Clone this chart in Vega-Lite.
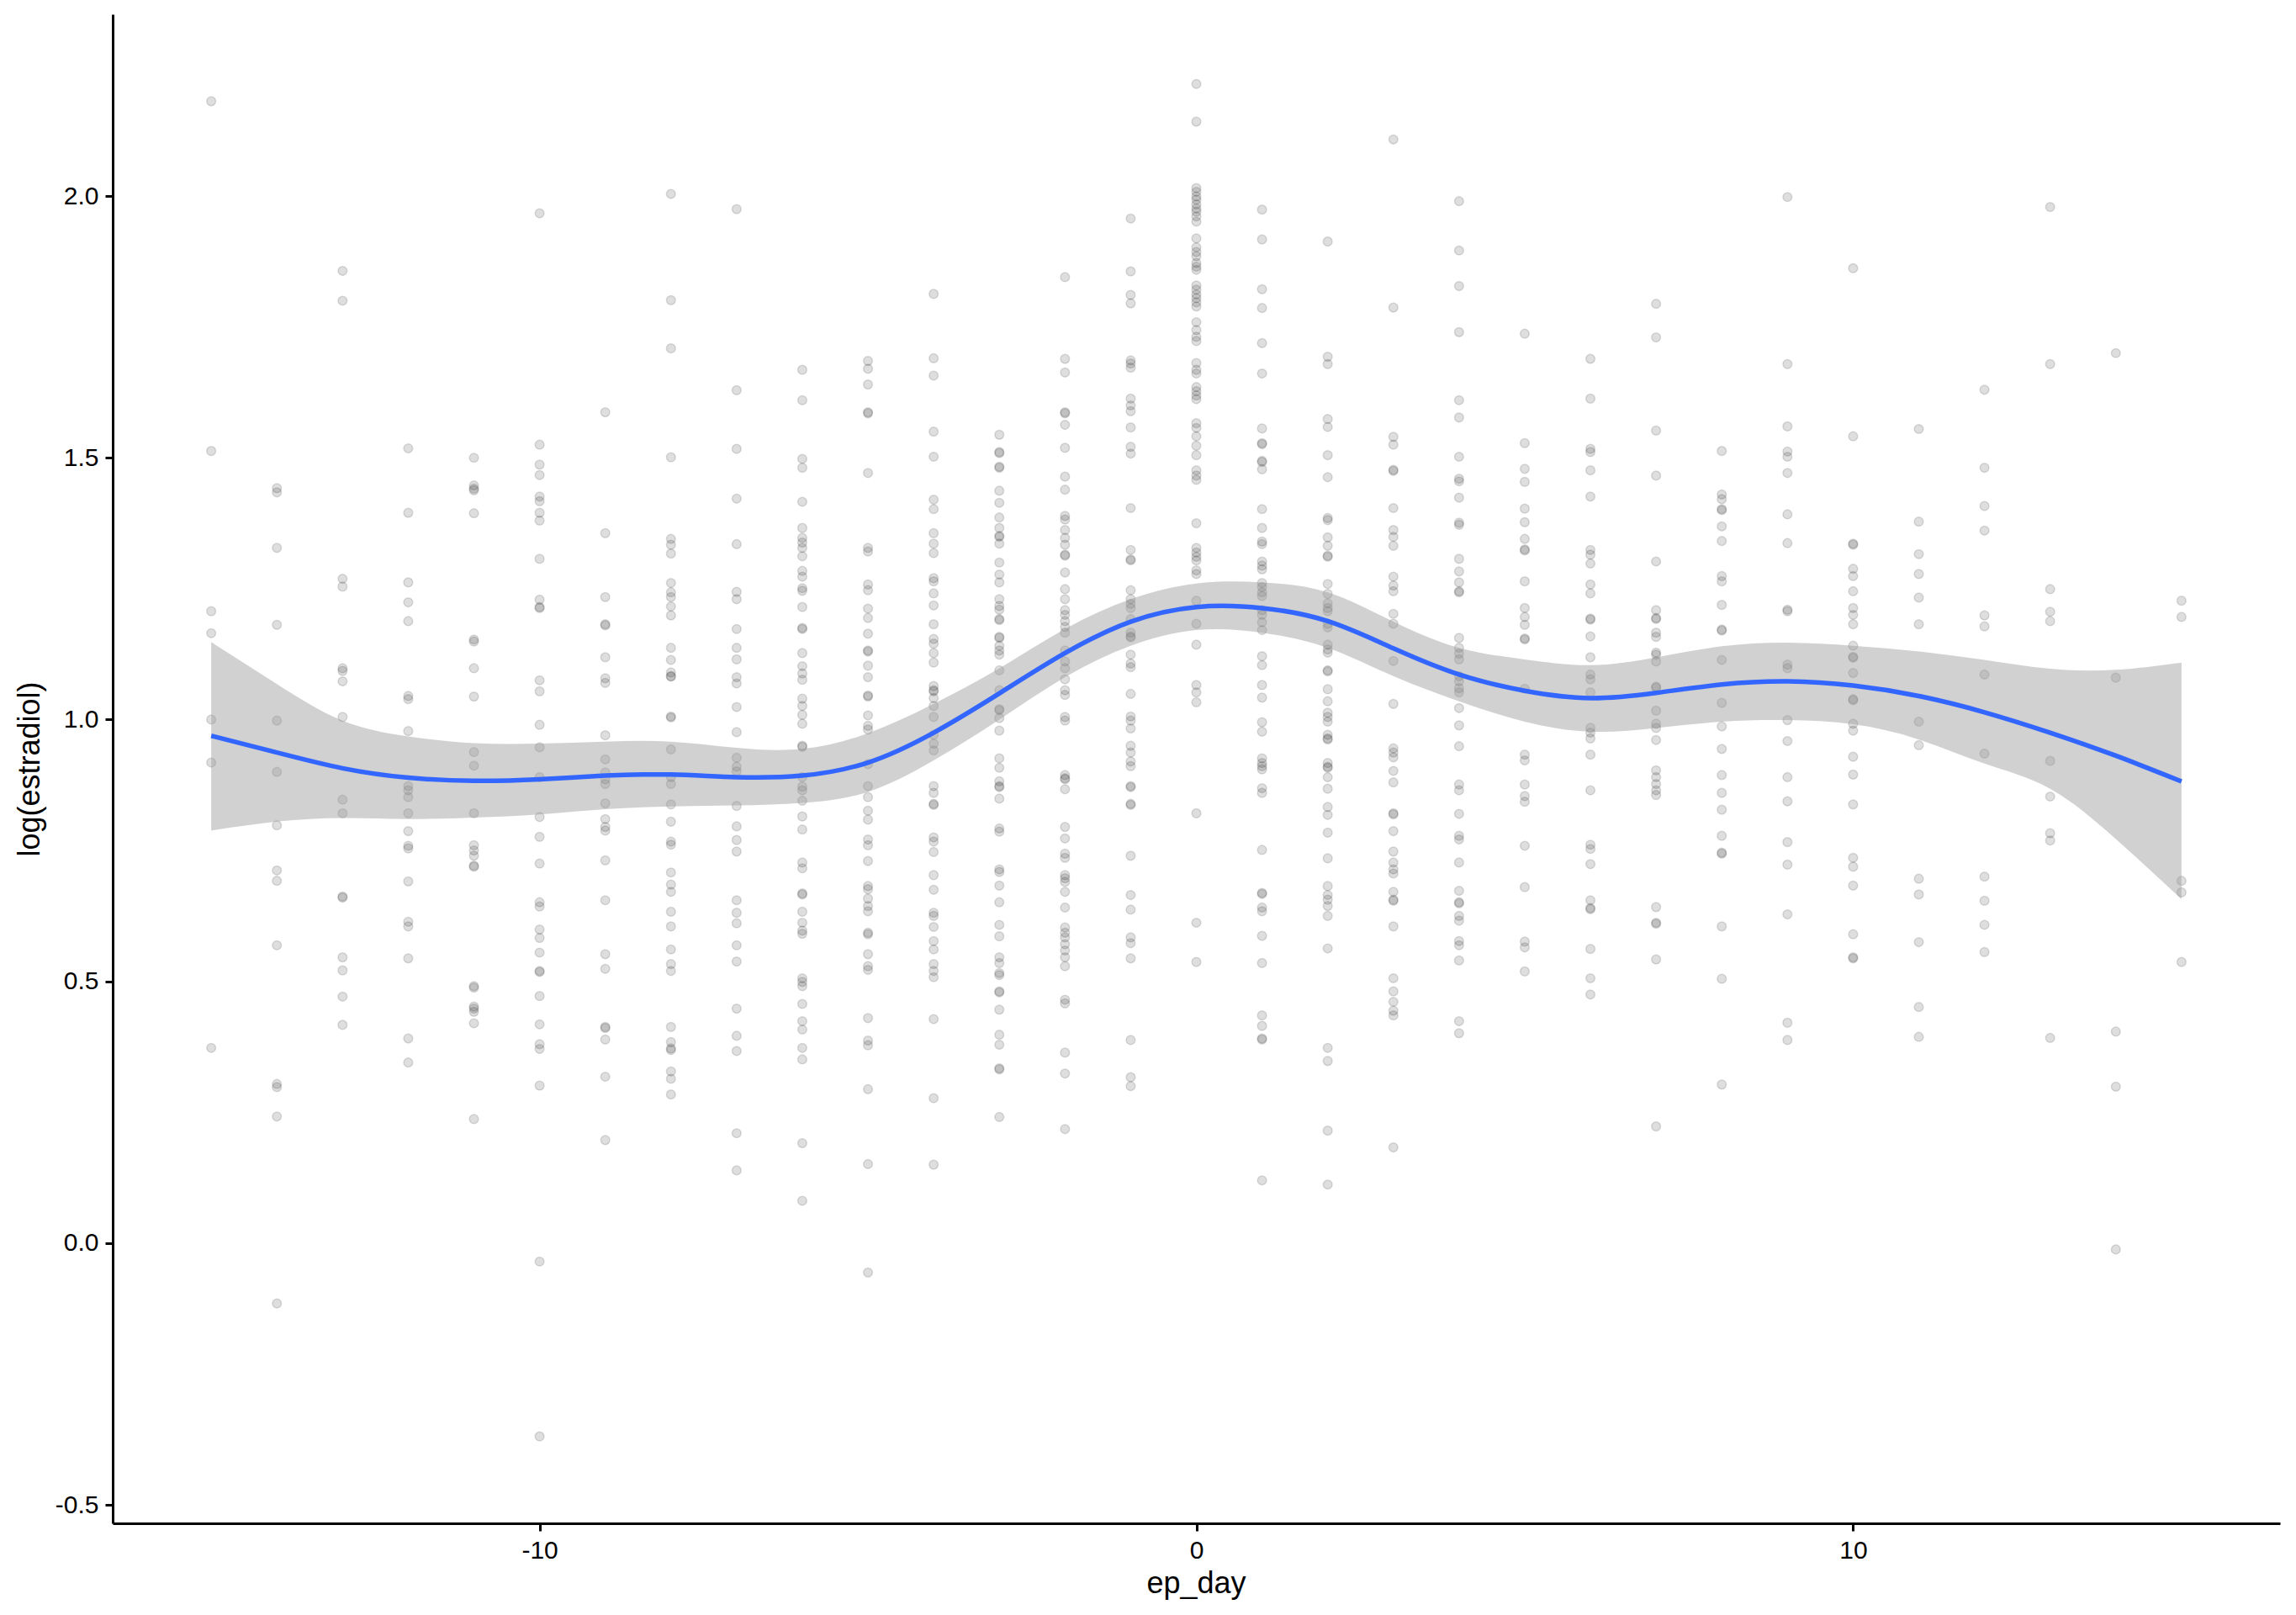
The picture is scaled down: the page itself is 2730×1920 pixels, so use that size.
{
"$schema": "https://vega.github.io/schema/vega-lite/v6.json",
"width": 2577, "height": 1794,
"autosize": {"type": "none"},
"padding": {"left": 134, "top": 17, "right": 19, "bottom": 109},
"background": "white",
"config": {"view": {"stroke": null},
 "axis": {"grid": false, "domainColor": "black", "domainWidth": 3, "tickColor": "black", "tickWidth": 3, "tickSize": 9, "labelPadding": 8, "labelColor": "black", "labelFont": "Liberation Sans", "labelFontSize": 30, "titleFont": "Liberation Sans", "titleFontSize": 36, "titleFontWeight": "normal", "titleColor": "black"}},
"datasets": {
"pts": [
{"d":-15,"v":2.181},{"d":-15,"v":1.513},{"d":-15,"v":1.207},{"d":-15,"v":1.165},{"d":-15,"v":1.0},{"d":-15,"v":0.918},{"d":-15,"v":0.373},
{"d":-14,"v":1.442},{"d":-14,"v":1.434},{"d":-14,"v":1.328},{"d":-14,"v":1.181},{"d":-14,"v":0.998},{"d":-14,"v":0.9},{"d":-14,"v":0.798},{"d":-14,"v":0.712},{"d":-14,"v":0.692},{"d":-14,"v":0.569},{"d":-14,"v":0.304},{"d":-14,"v":0.298},{"d":-14,"v":0.242},{"d":-14,"v":-0.115},
{"d":-13,"v":1.857},{"d":-13,"v":1.8},{"d":-13,"v":1.269},{"d":-13,"v":1.254},{"d":-13,"v":1.098},{"d":-13,"v":1.093},{"d":-13,"v":1.073},{"d":-13,"v":1.005},{"d":-13,"v":0.847},{"d":-13,"v":0.821},{"d":-13,"v":0.662},{"d":-13,"v":0.66},{"d":-13,"v":0.546},{"d":-13,"v":0.521},{"d":-13,"v":0.471},{"d":-13,"v":0.417},
{"d":-12,"v":1.518},{"d":-12,"v":1.395},{"d":-12,"v":1.262},{"d":-12,"v":1.224},{"d":-12,"v":1.188},{"d":-12,"v":1.045},{"d":-12,"v":1.039},{"d":-12,"v":0.978},{"d":-12,"v":0.873},{"d":-12,"v":0.865},{"d":-12,"v":0.852},{"d":-12,"v":0.821},{"d":-12,"v":0.787},{"d":-12,"v":0.759},{"d":-12,"v":0.754},{"d":-12,"v":0.691},{"d":-12,"v":0.614},{"d":-12,"v":0.605},{"d":-12,"v":0.544},{"d":-12,"v":0.391},{"d":-12,"v":0.345},
{"d":-11,"v":1.5},{"d":-11,"v":1.447},{"d":-11,"v":1.441},{"d":-11,"v":1.438},{"d":-11,"v":1.394},{"d":-11,"v":1.153},{"d":-11,"v":1.149},{"d":-11,"v":1.098},{"d":-11,"v":1.044},{"d":-11,"v":0.938},{"d":-11,"v":0.912},{"d":-11,"v":0.821},{"d":-11,"v":0.76},{"d":-11,"v":0.75},{"d":-11,"v":0.74},{"d":-11,"v":0.721},{"d":-11,"v":0.719},{"d":-11,"v":0.491},{"d":-11,"v":0.488},{"d":-11,"v":0.452},{"d":-11,"v":0.448},{"d":-11,"v":0.442},{"d":-11,"v":0.42},{"d":-11,"v":0.237},
{"d":-10,"v":1.967},{"d":-10,"v":1.525},{"d":-10,"v":1.487},{"d":-10,"v":1.467},{"d":-10,"v":1.426},{"d":-10,"v":1.417},{"d":-10,"v":1.395},{"d":-10,"v":1.38},{"d":-10,"v":1.307},{"d":-10,"v":1.229},{"d":-10,"v":1.215},{"d":-10,"v":1.213},{"d":-10,"v":1.075},{"d":-10,"v":1.054},{"d":-10,"v":0.99},{"d":-10,"v":0.947},{"d":-10,"v":0.89},{"d":-10,"v":0.814},{"d":-10,"v":0.776},{"d":-10,"v":0.725},{"d":-10,"v":0.651},{"d":-10,"v":0.643},{"d":-10,"v":0.599},{"d":-10,"v":0.583},{"d":-10,"v":0.555},{"d":-10,"v":0.52},{"d":-10,"v":0.518},{"d":-10,"v":0.472},{"d":-10,"v":0.418},{"d":-10,"v":0.38},{"d":-10,"v":0.371},{"d":-10,"v":0.301},{"d":-10,"v":-0.035},{"d":-10,"v":-0.369},
{"d":-9,"v":1.587},{"d":-9,"v":1.356},{"d":-9,"v":1.234},{"d":-9,"v":1.182},{"d":-9,"v":1.18},{"d":-9,"v":1.119},{"d":-9,"v":1.079},{"d":-9,"v":1.07},{"d":-9,"v":0.97},{"d":-9,"v":0.924},{"d":-9,"v":0.899},{"d":-9,"v":0.886},{"d":-9,"v":0.877},{"d":-9,"v":0.84},{"d":-9,"v":0.81},{"d":-9,"v":0.795},{"d":-9,"v":0.788},{"d":-9,"v":0.731},{"d":-9,"v":0.655},{"d":-9,"v":0.552},{"d":-9,"v":0.524},{"d":-9,"v":0.413},{"d":-9,"v":0.411},{"d":-9,"v":0.389},{"d":-9,"v":0.318},{"d":-9,"v":0.197},
{"d":-8,"v":2.004},{"d":-8,"v":1.801},{"d":-8,"v":1.709},{"d":-8,"v":1.501},{"d":-8,"v":1.345},{"d":-8,"v":1.334},{"d":-8,"v":1.317},{"d":-8,"v":1.261},{"d":-8,"v":1.243},{"d":-8,"v":1.234},{"d":-8,"v":1.216},{"d":-8,"v":1.199},{"d":-8,"v":1.137},{"d":-8,"v":1.114},{"d":-8,"v":1.09},{"d":-8,"v":1.083},{"d":-8,"v":1.082},{"d":-8,"v":1.006},{"d":-8,"v":1.004},{"d":-8,"v":0.943},{"d":-8,"v":0.89},{"d":-8,"v":0.877},{"d":-8,"v":0.838},{"d":-8,"v":0.805},{"d":-8,"v":0.767},{"d":-8,"v":0.761},{"d":-8,"v":0.708},{"d":-8,"v":0.685},{"d":-8,"v":0.671},{"d":-8,"v":0.633},{"d":-8,"v":0.605},{"d":-8,"v":0.561},{"d":-8,"v":0.533},{"d":-8,"v":0.52},{"d":-8,"v":0.413},{"d":-8,"v":0.384},{"d":-8,"v":0.372},{"d":-8,"v":0.369},{"d":-8,"v":0.328},{"d":-8,"v":0.314},{"d":-8,"v":0.284},
{"d":-7,"v":1.975},{"d":-7,"v":1.629},{"d":-7,"v":1.517},{"d":-7,"v":1.422},{"d":-7,"v":1.335},{"d":-7,"v":1.244},{"d":-7,"v":1.23},{"d":-7,"v":1.173},{"d":-7,"v":1.137},{"d":-7,"v":1.115},{"d":-7,"v":1.081},{"d":-7,"v":1.069},{"d":-7,"v":1.024},{"d":-7,"v":0.976},{"d":-7,"v":0.927},{"d":-7,"v":0.91},{"d":-7,"v":0.901},{"d":-7,"v":0.835},{"d":-7,"v":0.796},{"d":-7,"v":0.77},{"d":-7,"v":0.748},{"d":-7,"v":0.655},{"d":-7,"v":0.631},{"d":-7,"v":0.611},{"d":-7,"v":0.569},{"d":-7,"v":0.538},{"d":-7,"v":0.448},{"d":-7,"v":0.396},{"d":-7,"v":0.367},{"d":-7,"v":0.21},{"d":-7,"v":0.139},
{"d":-6,"v":1.668},{"d":-6,"v":1.61},{"d":-6,"v":1.498},{"d":-6,"v":1.481},{"d":-6,"v":1.416},{"d":-6,"v":1.366},{"d":-6,"v":1.347},{"d":-6,"v":1.338},{"d":-6,"v":1.328},{"d":-6,"v":1.312},{"d":-6,"v":1.284},{"d":-6,"v":1.273},{"d":-6,"v":1.251},{"d":-6,"v":1.246},{"d":-6,"v":1.215},{"d":-6,"v":1.175},{"d":-6,"v":1.173},{"d":-6,"v":1.127},{"d":-6,"v":1.102},{"d":-6,"v":1.088},{"d":-6,"v":1.076},{"d":-6,"v":1.04},{"d":-6,"v":1.026},{"d":-6,"v":1.009},{"d":-6,"v":0.992},{"d":-6,"v":0.95},{"d":-6,"v":0.948},{"d":-6,"v":0.89},{"d":-6,"v":0.872},{"d":-6,"v":0.865},{"d":-6,"v":0.845},{"d":-6,"v":0.815},{"d":-6,"v":0.79},{"d":-6,"v":0.727},{"d":-6,"v":0.716},{"d":-6,"v":0.668},{"d":-6,"v":0.666},{"d":-6,"v":0.633},{"d":-6,"v":0.612},{"d":-6,"v":0.597},{"d":-6,"v":0.591},{"d":-6,"v":0.506},{"d":-6,"v":0.499},{"d":-6,"v":0.491},{"d":-6,"v":0.457},{"d":-6,"v":0.424},{"d":-6,"v":0.408},{"d":-6,"v":0.373},{"d":-6,"v":0.351},{"d":-6,"v":0.191},{"d":-6,"v":0.081},
{"d":-5,"v":1.685},{"d":-5,"v":1.67},{"d":-5,"v":1.64},{"d":-5,"v":1.587},{"d":-5,"v":1.585},{"d":-5,"v":1.471},{"d":-5,"v":1.328},{"d":-5,"v":1.321},{"d":-5,"v":1.258},{"d":-5,"v":1.247},{"d":-5,"v":1.212},{"d":-5,"v":1.194},{"d":-5,"v":1.164},{"d":-5,"v":1.132},{"d":-5,"v":1.13},{"d":-5,"v":1.103},{"d":-5,"v":1.081},{"d":-5,"v":1.046},{"d":-5,"v":1.044},{"d":-5,"v":1.008},{"d":-5,"v":0.988},{"d":-5,"v":0.981},{"d":-5,"v":0.915},{"d":-5,"v":0.873},{"d":-5,"v":0.852},{"d":-5,"v":0.826},{"d":-5,"v":0.809},{"d":-5,"v":0.771},{"d":-5,"v":0.76},{"d":-5,"v":0.73},{"d":-5,"v":0.682},{"d":-5,"v":0.676},{"d":-5,"v":0.658},{"d":-5,"v":0.644},{"d":-5,"v":0.634},{"d":-5,"v":0.593},{"d":-5,"v":0.59},{"d":-5,"v":0.552},{"d":-5,"v":0.529},{"d":-5,"v":0.522},{"d":-5,"v":0.43},{"d":-5,"v":0.387},{"d":-5,"v":0.378},{"d":-5,"v":0.294},{"d":-5,"v":0.151},{"d":-5,"v":-0.056},
{"d":-4,"v":1.813},{"d":-4,"v":1.69},{"d":-4,"v":1.657},{"d":-4,"v":1.55},{"d":-4,"v":1.502},{"d":-4,"v":1.42},{"d":-4,"v":1.402},{"d":-4,"v":1.356},{"d":-4,"v":1.336},{"d":-4,"v":1.318},{"d":-4,"v":1.27},{"d":-4,"v":1.264},{"d":-4,"v":1.241},{"d":-4,"v":1.218},{"d":-4,"v":1.182},{"d":-4,"v":1.154},{"d":-4,"v":1.145},{"d":-4,"v":1.127},{"d":-4,"v":1.109},{"d":-4,"v":1.064},{"d":-4,"v":1.056},{"d":-4,"v":1.054},{"d":-4,"v":1.041},{"d":-4,"v":1.026},{"d":-4,"v":1.005},{"d":-4,"v":0.971},{"d":-4,"v":0.954},{"d":-4,"v":0.941},{"d":-4,"v":0.873},{"d":-4,"v":0.86},{"d":-4,"v":0.839},{"d":-4,"v":0.837},{"d":-4,"v":0.775},{"d":-4,"v":0.767},{"d":-4,"v":0.747},{"d":-4,"v":0.703},{"d":-4,"v":0.675},{"d":-4,"v":0.631},{"d":-4,"v":0.625},{"d":-4,"v":0.604},{"d":-4,"v":0.577},{"d":-4,"v":0.561},{"d":-4,"v":0.533},{"d":-4,"v":0.52},{"d":-4,"v":0.508},{"d":-4,"v":0.428},{"d":-4,"v":0.277},{"d":-4,"v":0.15},
{"d":-3,"v":1.544},{"d":-3,"v":1.511},{"d":-3,"v":1.509},{"d":-3,"v":1.483},{"d":-3,"v":1.481},{"d":-3,"v":1.437},{"d":-3,"v":1.414},{"d":-3,"v":1.386},{"d":-3,"v":1.366},{"d":-3,"v":1.351},{"d":-3,"v":1.349},{"d":-3,"v":1.336},{"d":-3,"v":1.3},{"d":-3,"v":1.277},{"d":-3,"v":1.262},{"d":-3,"v":1.23},{"d":-3,"v":1.217},{"d":-3,"v":1.21},{"d":-3,"v":1.192},{"d":-3,"v":1.19},{"d":-3,"v":1.158},{"d":-3,"v":1.156},{"d":-3,"v":1.141},{"d":-3,"v":1.132},{"d":-3,"v":1.124},{"d":-3,"v":1.094},{"d":-3,"v":1.056},{"d":-3,"v":1.02},{"d":-3,"v":1.018},{"d":-3,"v":1.003},{"d":-3,"v":0.979},{"d":-3,"v":0.926},{"d":-3,"v":0.908},{"d":-3,"v":0.882},{"d":-3,"v":0.873},{"d":-3,"v":0.871},{"d":-3,"v":0.849},{"d":-3,"v":0.792},{"d":-3,"v":0.786},{"d":-3,"v":0.714},{"d":-3,"v":0.709},{"d":-3,"v":0.683},{"d":-3,"v":0.651},{"d":-3,"v":0.608},{"d":-3,"v":0.586},{"d":-3,"v":0.546},{"d":-3,"v":0.535},{"d":-3,"v":0.516},{"d":-3,"v":0.512},{"d":-3,"v":0.481},{"d":-3,"v":0.479},{"d":-3,"v":0.446},{"d":-3,"v":0.398},{"d":-3,"v":0.379},{"d":-3,"v":0.334},{"d":-3,"v":0.332},{"d":-3,"v":0.241},
{"d":-2,"v":1.845},{"d":-2,"v":1.689},{"d":-2,"v":1.663},{"d":-2,"v":1.587},{"d":-2,"v":1.585},{"d":-2,"v":1.563},{"d":-2,"v":1.519},{"d":-2,"v":1.464},{"d":-2,"v":1.439},{"d":-2,"v":1.389},{"d":-2,"v":1.382},{"d":-2,"v":1.362},{"d":-2,"v":1.347},{"d":-2,"v":1.334},{"d":-2,"v":1.315},{"d":-2,"v":1.313},{"d":-2,"v":1.281},{"d":-2,"v":1.249},{"d":-2,"v":1.23},{"d":-2,"v":1.209},{"d":-2,"v":1.2},{"d":-2,"v":1.188},{"d":-2,"v":1.177},{"d":-2,"v":1.166},{"d":-2,"v":1.132},{"d":-2,"v":1.111},{"d":-2,"v":1.098},{"d":-2,"v":1.077},{"d":-2,"v":1.056},{"d":-2,"v":1.047},{"d":-2,"v":1.005},{"d":-2,"v":0.998},{"d":-2,"v":0.894},{"d":-2,"v":0.888},{"d":-2,"v":0.886},{"d":-2,"v":0.867},{"d":-2,"v":0.795},{"d":-2,"v":0.773},{"d":-2,"v":0.744},{"d":-2,"v":0.736},{"d":-2,"v":0.703},{"d":-2,"v":0.697},{"d":-2,"v":0.69},{"d":-2,"v":0.671},{"d":-2,"v":0.641},{"d":-2,"v":0.603},{"d":-2,"v":0.593},{"d":-2,"v":0.584},{"d":-2,"v":0.571},{"d":-2,"v":0.559},{"d":-2,"v":0.546},{"d":-2,"v":0.529},{"d":-2,"v":0.465},{"d":-2,"v":0.458},{"d":-2,"v":0.364},{"d":-2,"v":0.324},{"d":-2,"v":0.218},
{"d":-1,"v":1.957},{"d":-1,"v":1.856},{"d":-1,"v":1.811},{"d":-1,"v":1.795},{"d":-1,"v":1.686},{"d":-1,"v":1.68},{"d":-1,"v":1.672},{"d":-1,"v":1.613},{"d":-1,"v":1.6},{"d":-1,"v":1.589},{"d":-1,"v":1.558},{"d":-1,"v":1.521},{"d":-1,"v":1.508},{"d":-1,"v":1.404},{"d":-1,"v":1.324},{"d":-1,"v":1.306},{"d":-1,"v":1.304},{"d":-1,"v":1.247},{"d":-1,"v":1.23},{"d":-1,"v":1.221},{"d":-1,"v":1.213},{"d":-1,"v":1.192},{"d":-1,"v":1.166},{"d":-1,"v":1.159},{"d":-1,"v":1.157},{"d":-1,"v":1.124},{"d":-1,"v":1.107},{"d":-1,"v":1.1},{"d":-1,"v":1.049},{"d":-1,"v":1.006},{"d":-1,"v":0.998},{"d":-1,"v":0.983},{"d":-1,"v":0.95},{"d":-1,"v":0.937},{"d":-1,"v":0.92},{"d":-1,"v":0.911},{"d":-1,"v":0.873},{"d":-1,"v":0.871},{"d":-1,"v":0.839},{"d":-1,"v":0.837},{"d":-1,"v":0.74},{"d":-1,"v":0.665},{"d":-1,"v":0.637},{"d":-1,"v":0.584},{"d":-1,"v":0.573},{"d":-1,"v":0.544},{"d":-1,"v":0.388},{"d":-1,"v":0.317},{"d":-1,"v":0.3},
{"d":0,"v":2.214},{"d":0,"v":2.142},{"d":0,"v":2.015},{"d":0,"v":2.008},{"d":0,"v":1.999},{"d":0,"v":1.993},{"d":0,"v":1.984},{"d":0,"v":1.976},{"d":0,"v":1.97},{"d":0,"v":1.961},{"d":0,"v":1.951},{"d":0,"v":1.919},{"d":0,"v":1.902},{"d":0,"v":1.893},{"d":0,"v":1.885},{"d":0,"v":1.872},{"d":0,"v":1.865},{"d":0,"v":1.859},{"d":0,"v":1.829},{"d":0,"v":1.821},{"d":0,"v":1.812},{"d":0,"v":1.805},{"d":0,"v":1.797},{"d":0,"v":1.789},{"d":0,"v":1.759},{"d":0,"v":1.744},{"d":0,"v":1.731},{"d":0,"v":1.723},{"d":0,"v":1.681},{"d":0,"v":1.668},{"d":0,"v":1.661},{"d":0,"v":1.635},{"d":0,"v":1.627},{"d":0,"v":1.619},{"d":0,"v":1.612},{"d":0,"v":1.566},{"d":0,"v":1.557},{"d":0,"v":1.541},{"d":0,"v":1.523},{"d":0,"v":1.505},{"d":0,"v":1.476},{"d":0,"v":1.466},{"d":0,"v":1.458},{"d":0,"v":1.375},{"d":0,"v":1.328},{"d":0,"v":1.319},{"d":0,"v":1.311},{"d":0,"v":1.304},{"d":0,"v":1.285},{"d":0,"v":1.278},{"d":0,"v":1.227},{"d":0,"v":1.183},{"d":0,"v":1.143},{"d":0,"v":1.066},{"d":0,"v":1.052},{"d":0,"v":1.033},{"d":0,"v":0.821},{"d":0,"v":0.612},{"d":0,"v":0.537},
{"d":1,"v":1.974},{"d":1,"v":1.917},{"d":1,"v":1.822},{"d":1,"v":1.786},{"d":1,"v":1.719},{"d":1,"v":1.661},{"d":1,"v":1.556},{"d":1,"v":1.528},{"d":1,"v":1.526},{"d":1,"v":1.494},{"d":1,"v":1.492},{"d":1,"v":1.478},{"d":1,"v":1.402},{"d":1,"v":1.366},{"d":1,"v":1.34},{"d":1,"v":1.335},{"d":1,"v":1.302},{"d":1,"v":1.294},{"d":1,"v":1.287},{"d":1,"v":1.261},{"d":1,"v":1.253},{"d":1,"v":1.243},{"d":1,"v":1.236},{"d":1,"v":1.209},{"d":1,"v":1.2},{"d":1,"v":1.186},{"d":1,"v":1.171},{"d":1,"v":1.121},{"d":1,"v":1.104},{"d":1,"v":1.066},{"d":1,"v":1.042},{"d":1,"v":0.995},{"d":1,"v":0.977},{"d":1,"v":0.926},{"d":1,"v":0.917},{"d":1,"v":0.911},{"d":1,"v":0.905},{"d":1,"v":0.869},{"d":1,"v":0.86},{"d":1,"v":0.751},{"d":1,"v":0.669},{"d":1,"v":0.667},{"d":1,"v":0.641},{"d":1,"v":0.634},{"d":1,"v":0.587},{"d":1,"v":0.535},{"d":1,"v":0.435},{"d":1,"v":0.415},{"d":1,"v":0.391},{"d":1,"v":0.389},{"d":1,"v":0.12},
{"d":2,"v":1.913},{"d":2,"v":1.693},{"d":2,"v":1.679},{"d":2,"v":1.574},{"d":2,"v":1.559},{"d":2,"v":1.505},{"d":2,"v":1.463},{"d":2,"v":1.385},{"d":2,"v":1.381},{"d":2,"v":1.348},{"d":2,"v":1.332},{"d":2,"v":1.313},{"d":2,"v":1.311},{"d":2,"v":1.259},{"d":2,"v":1.24},{"d":2,"v":1.222},{"d":2,"v":1.213},{"d":2,"v":1.207},{"d":2,"v":1.183},{"d":2,"v":1.176},{"d":2,"v":1.143},{"d":2,"v":1.134},{"d":2,"v":1.128},{"d":2,"v":1.094},{"d":2,"v":1.092},{"d":2,"v":1.058},{"d":2,"v":1.035},{"d":2,"v":1.013},{"d":2,"v":1.005},{"d":2,"v":0.996},{"d":2,"v":0.971},{"d":2,"v":0.964},{"d":2,"v":0.962},{"d":2,"v":0.917},{"d":2,"v":0.91},{"d":2,"v":0.908},{"d":2,"v":0.89},{"d":2,"v":0.868},{"d":2,"v":0.833},{"d":2,"v":0.818},{"d":2,"v":0.784},{"d":2,"v":0.735},{"d":2,"v":0.682},{"d":2,"v":0.665},{"d":2,"v":0.656},{"d":2,"v":0.644},{"d":2,"v":0.625},{"d":2,"v":0.563},{"d":2,"v":0.373},{"d":2,"v":0.348},{"d":2,"v":0.215},{"d":2,"v":0.112},
{"d":3,"v":2.108},{"d":3,"v":1.787},{"d":3,"v":1.54},{"d":3,"v":1.525},{"d":3,"v":1.477},{"d":3,"v":1.475},{"d":3,"v":1.404},{"d":3,"v":1.362},{"d":3,"v":1.349},{"d":3,"v":1.332},{"d":3,"v":1.273},{"d":3,"v":1.256},{"d":3,"v":1.245},{"d":3,"v":1.202},{"d":3,"v":1.183},{"d":3,"v":1.112},{"d":3,"v":1.03},{"d":3,"v":0.945},{"d":3,"v":0.937},{"d":3,"v":0.928},{"d":3,"v":0.902},{"d":3,"v":0.88},{"d":3,"v":0.821},{"d":3,"v":0.819},{"d":3,"v":0.787},{"d":3,"v":0.748},{"d":3,"v":0.727},{"d":3,"v":0.714},{"d":3,"v":0.706},{"d":3,"v":0.671},{"d":3,"v":0.656},{"d":3,"v":0.654},{"d":3,"v":0.605},{"d":3,"v":0.506},{"d":3,"v":0.481},{"d":3,"v":0.461},{"d":3,"v":0.444},{"d":3,"v":0.435},{"d":3,"v":0.183},
{"d":4,"v":1.99},{"d":4,"v":1.896},{"d":4,"v":1.828},{"d":4,"v":1.74},{"d":4,"v":1.61},{"d":4,"v":1.577},{"d":4,"v":1.502},{"d":4,"v":1.46},{"d":4,"v":1.455},{"d":4,"v":1.424},{"d":4,"v":1.376},{"d":4,"v":1.372},{"d":4,"v":1.307},{"d":4,"v":1.283},{"d":4,"v":1.262},{"d":4,"v":1.245},{"d":4,"v":1.243},{"d":4,"v":1.156},{"d":4,"v":1.137},{"d":4,"v":1.126},{"d":4,"v":1.115},{"d":4,"v":1.083},{"d":4,"v":1.073},{"d":4,"v":1.06},{"d":4,"v":1.052},{"d":4,"v":1.022},{"d":4,"v":0.989},{"d":4,"v":0.949},{"d":4,"v":0.876},{"d":4,"v":0.865},{"d":4,"v":0.82},{"d":4,"v":0.778},{"d":4,"v":0.771},{"d":4,"v":0.727},{"d":4,"v":0.673},{"d":4,"v":0.651},{"d":4,"v":0.649},{"d":4,"v":0.625},{"d":4,"v":0.616},{"d":4,"v":0.577},{"d":4,"v":0.569},{"d":4,"v":0.54},{"d":4,"v":0.424},{"d":4,"v":0.401},
{"d":5,"v":1.737},{"d":5,"v":1.528},{"d":5,"v":1.479},{"d":5,"v":1.454},{"d":5,"v":1.403},{"d":5,"v":1.377},{"d":5,"v":1.345},{"d":5,"v":1.325},{"d":5,"v":1.323},{"d":5,"v":1.264},{"d":5,"v":1.213},{"d":5,"v":1.196},{"d":5,"v":1.181},{"d":5,"v":1.155},{"d":5,"v":1.153},{"d":5,"v":1.059},{"d":5,"v":0.933},{"d":5,"v":0.922},{"d":5,"v":0.876},{"d":5,"v":0.854},{"d":5,"v":0.843},{"d":5,"v":0.759},{"d":5,"v":0.68},{"d":5,"v":0.576},{"d":5,"v":0.565},{"d":5,"v":0.519},
{"d":6,"v":1.689},{"d":6,"v":1.613},{"d":6,"v":1.517},{"d":6,"v":1.511},{"d":6,"v":1.476},{"d":6,"v":1.426},{"d":6,"v":1.324},{"d":6,"v":1.315},{"d":6,"v":1.298},{"d":6,"v":1.258},{"d":6,"v":1.241},{"d":6,"v":1.193},{"d":6,"v":1.191},{"d":6,"v":1.159},{"d":6,"v":1.119},{"d":6,"v":1.086},{"d":6,"v":1.077},{"d":6,"v":1.052},{"d":6,"v":0.984},{"d":6,"v":0.975},{"d":6,"v":0.964},{"d":6,"v":0.933},{"d":6,"v":0.865},{"d":6,"v":0.761},{"d":6,"v":0.753},{"d":6,"v":0.724},{"d":6,"v":0.655},{"d":6,"v":0.64},{"d":6,"v":0.638},{"d":6,"v":0.562},{"d":6,"v":0.506},{"d":6,"v":0.475},
{"d":7,"v":1.794},{"d":7,"v":1.73},{"d":7,"v":1.552},{"d":7,"v":1.466},{"d":7,"v":1.302},{"d":7,"v":1.209},{"d":7,"v":1.194},{"d":7,"v":1.192},{"d":7,"v":1.166},{"d":7,"v":1.158},{"d":7,"v":1.128},{"d":7,"v":1.124},{"d":7,"v":1.111},{"d":7,"v":1.063},{"d":7,"v":1.061},{"d":7,"v":1.017},{"d":7,"v":0.992},{"d":7,"v":0.984},{"d":7,"v":0.961},{"d":7,"v":0.903},{"d":7,"v":0.89},{"d":7,"v":0.877},{"d":7,"v":0.865},{"d":7,"v":0.856},{"d":7,"v":0.642},{"d":7,"v":0.612},{"d":7,"v":0.61},{"d":7,"v":0.542},{"d":7,"v":0.223},
{"d":8,"v":1.513},{"d":8,"v":1.43},{"d":8,"v":1.421},{"d":8,"v":1.402},{"d":8,"v":1.4},{"d":8,"v":1.369},{"d":8,"v":1.341},{"d":8,"v":1.274},{"d":8,"v":1.264},{"d":8,"v":1.219},{"d":8,"v":1.172},{"d":8,"v":1.17},{"d":8,"v":1.114},{"d":8,"v":1.032},{"d":8,"v":0.987},{"d":8,"v":0.944},{"d":8,"v":0.894},{"d":8,"v":0.86},{"d":8,"v":0.828},{"d":8,"v":0.778},{"d":8,"v":0.746},{"d":8,"v":0.744},{"d":8,"v":0.605},{"d":8,"v":0.505},{"d":8,"v":0.303},
{"d":9,"v":1.998},{"d":9,"v":1.679},{"d":9,"v":1.56},{"d":9,"v":1.512},{"d":9,"v":1.502},{"d":9,"v":1.471},{"d":9,"v":1.392},{"d":9,"v":1.337},{"d":9,"v":1.21},{"d":9,"v":1.207},{"d":9,"v":1.105},{"d":9,"v":1.098},{"d":9,"v":0.999},{"d":9,"v":0.959},{"d":9,"v":0.89},{"d":9,"v":0.844},{"d":9,"v":0.766},{"d":9,"v":0.723},{"d":9,"v":0.628},{"d":9,"v":0.421},{"d":9,"v":0.388},
{"d":10,"v":1.862},{"d":10,"v":1.541},{"d":10,"v":1.336},{"d":10,"v":1.334},{"d":10,"v":1.288},{"d":10,"v":1.274},{"d":10,"v":1.245},{"d":10,"v":1.213},{"d":10,"v":1.2},{"d":10,"v":1.182},{"d":10,"v":1.141},{"d":10,"v":1.12},{"d":10,"v":1.118},{"d":10,"v":1.089},{"d":10,"v":1.039},{"d":10,"v":1.037},{"d":10,"v":0.992},{"d":10,"v":0.979},{"d":10,"v":0.929},{"d":10,"v":0.895},{"d":10,"v":0.838},{"d":10,"v":0.736},{"d":10,"v":0.719},{"d":10,"v":0.683},{"d":10,"v":0.59},{"d":10,"v":0.546},{"d":10,"v":0.544},
{"d":11,"v":1.555},{"d":11,"v":1.378},{"d":11,"v":1.316},{"d":11,"v":1.278},{"d":11,"v":1.233},{"d":11,"v":1.182},{"d":11,"v":0.996},{"d":11,"v":0.951},{"d":11,"v":0.696},{"d":11,"v":0.666},{"d":11,"v":0.575},{"d":11,"v":0.451},{"d":11,"v":0.394},
{"d":12,"v":1.63},{"d":12,"v":1.481},{"d":12,"v":1.408},{"d":12,"v":1.361},{"d":12,"v":1.199},{"d":12,"v":1.178},{"d":12,"v":1.086},{"d":12,"v":0.935},{"d":12,"v":0.7},{"d":12,"v":0.654},{"d":12,"v":0.608},{"d":12,"v":0.556},
{"d":13,"v":1.979},{"d":13,"v":1.679},{"d":13,"v":1.249},{"d":13,"v":1.206},{"d":13,"v":1.188},{"d":13,"v":0.921},{"d":13,"v":0.853},{"d":13,"v":0.783},{"d":13,"v":0.769},{"d":13,"v":0.392},
{"d":14,"v":1.7},{"d":14,"v":1.08},{"d":14,"v":0.404},{"d":14,"v":0.299},{"d":14,"v":-0.012},
{"d":15,"v":1.227},{"d":15,"v":1.196},{"d":15,"v":0.692},{"d":15,"v":0.67},{"d":15,"v":0.537}
],
"fit": [
{"d":-15,"f":0.969,"lo":0.788,"hi":1.148},{"d":-14,"f":0.937,"lo":0.805,"hi":1.068},{"d":-13,"f":0.907,"lo":0.812,"hi":0.998},{"d":-12,"f":0.889,"lo":0.81,"hi":0.968},{"d":-11,"f":0.883,"lo":0.813,"hi":0.955},{"d":-10,"f":0.886,"lo":0.819,"hi":0.954},{"d":-9,"f":0.893,"lo":0.829,"hi":0.958},{"d":-8,"f":0.895,"lo":0.834,"hi":0.958},{"d":-7,"f":0.89,"lo":0.836,"hi":0.946},{"d":-6,"f":0.893,"lo":0.841,"hi":0.944},{"d":-5,"f":0.918,"lo":0.862,"hi":0.974},{"d":-4,"f":0.975,"lo":0.922,"hi":1.03},{"d":-3,"f":1.05,"lo":1.0,"hi":1.098},{"d":-2,"f":1.127,"lo":1.081,"hi":1.173},{"d":-1,"f":1.187,"lo":1.141,"hi":1.23},{"d":0,"f":1.215,"lo":1.171,"hi":1.26},{"d":1,"f":1.213,"lo":1.166,"hi":1.262},{"d":2,"f":1.188,"lo":1.137,"hi":1.243},{"d":3,"f":1.136,"lo":1.083,"hi":1.187},{"d":4,"f":1.086,"lo":1.035,"hi":1.137},{"d":5,"f":1.055,"lo":0.996,"hi":1.115},{"d":6,"f":1.041,"lo":0.977,"hi":1.104},{"d":7,"f":1.051,"lo":0.984,"hi":1.119},{"d":8,"f":1.067,"lo":0.996,"hi":1.14},{"d":9,"f":1.073,"lo":0.999,"hi":1.147},{"d":10,"f":1.065,"lo":0.991,"hi":1.141},{"d":11,"f":1.045,"lo":0.962,"hi":1.13},{"d":12,"f":1.014,"lo":0.916,"hi":1.114},{"d":13,"f":0.975,"lo":0.868,"hi":1.097},{"d":14,"f":0.931,"lo":0.772,"hi":1.095},{"d":15,"f":0.882,"lo":0.657,"hi":1.109}
]},
"layer": [
{"data": {"name": "pts"},
 "mark": {"type": "circle", "size": 115, "fill": "#000000", "fillOpacity": 0.13, "stroke": "#000000", "strokeOpacity": 0.13, "strokeWidth": 1.5},
 "encoding": {
  "x": {"field": "d", "type": "quantitative", "scale": {"domain": [-16.5, 16.5], "nice": false, "zero": false},
        "axis": {"title": "ep_day", "values": [-10, 0, 10], "labelExpr": "datum.value < 0 ? '-' + format(-datum.value, 'd') : format(datum.value, 'd')", "titleX": 1288, "titleY": 71, "titleBaseline": "middle"}},
  "y": {"field": "v", "type": "quantitative", "scale": {"domain": [-0.535, 2.347], "nice": false, "zero": false},
        "axis": {"title": "log(estradiol)", "values": [-0.5, 0, 0.5, 1, 1.5, 2], "labelExpr": "datum.value < 0 ? '-' + format(-datum.value, '.1f') : format(datum.value, '.1f')", "titleX": -99, "titleY": 897, "titleBaseline": "middle", "titleAlign": "center", "titleAngle": -90}}
 }},
{"data": {"name": "fit"},
 "mark": {"type": "area", "interpolate": "natural", "fill": "#999999", "opacity": 0.45},
 "encoding": {"x": {"field": "d", "type": "quantitative"}, "y": {"field": "lo", "type": "quantitative"}, "y2": {"field": "hi"}}},
{"data": {"name": "fit"},
 "mark": {"type": "line", "interpolate": "natural", "color": "#3366FF", "strokeWidth": 5.5},
 "encoding": {"x": {"field": "d", "type": "quantitative"}, "y": {"field": "f", "type": "quantitative"}}}
]
}
